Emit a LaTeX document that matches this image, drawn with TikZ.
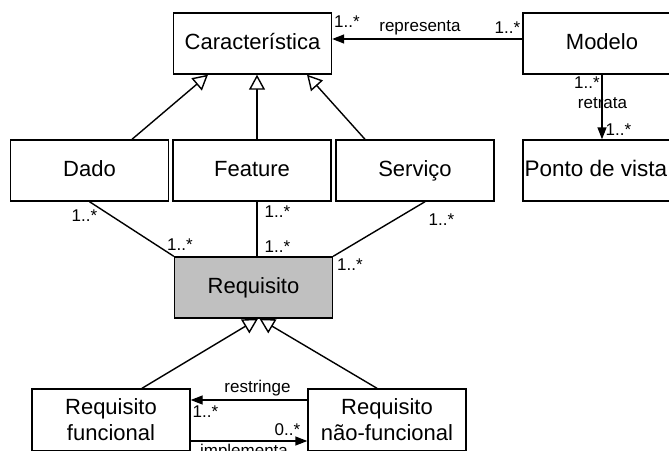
\documentclass[tikz,border=0pt]{standalone}
\usepackage{fontspec}
\setmainfont{Liberation Sans}
\usetikzlibrary{arrows.meta}
\definecolor{reqgray}{RGB}{192,192,192}
\begin{document}
\begin{tikzpicture}[x=1pt,y=-1pt,
  box/.style={draw, line width=1.4pt, minimum width=158pt, minimum height=61pt,
    inner sep=0pt, font=\fontsize{22}{26}\selectfont, align=center},
  one/.style={text height=15.7pt, text depth=3.3pt},
  lbl/.style={inner sep=0pt, font=\fontsize{17}{20}\selectfont},
  conn/.style={line width=1.4pt},
  gen/.style={conn, -{Triangle[open, fill=white, length=15pt, width=16pt]}},
  nav/.style={conn, -{Triangle[length=12pt, width=9pt]}},
]
\useasboundingbox (0,0) rectangle (669,450);
\clip (0,0) rectangle (669,450);

% classes
\node[box, one] (car) at (252.5,43.5) {Característica};
\node[box, one] (modelo) at (602,43.5) {Modelo};
\node[box, one] (dado) at (89.5,170.5) {Dado};
\node[box, one] (feature) at (252,170.5) {Feature};
\node[box, one] (servico) at (415,170.5) {Serviço};
\node[box] (ponto) at (602,170.5) {};
\node[anchor=west, inner sep=0pt, font=\fontsize{22.5}{26}\selectfont, text height=15.7pt, text depth=3.3pt]
  (pontotxt) at ([xshift=2pt]ponto.west) {Ponto de vista};
\node[box, one, fill=reqgray] (req) at (253.5,287.5) {Requisito};
\node[box, minimum height=62pt] (reqf) at (111,420) {Requisito\\funcional};
\node[box, minimum height=62pt] (reqnf) at (387,420) {Requisito\\não-funcional};

% associations between Modelo, Característica and Ponto de vista
\draw[nav] ([yshift=4.5pt]modelo.west) -- ([yshift=4.5pt]car.east);
\node[lbl] (repA) at (347,22) {1..*};
\node[lbl] (repN) at (420,28) {representa};
\node[lbl] (repB) at (507.5,28) {1..*};

\node[lbl] (retA) at (587,83) {1..*};
\node[lbl] (retN) at (602.5,103) {retrata};
\node[lbl] (retB) at (618.5,130) {1..*};
\draw[nav] (modelo.south) -- (ponto.north);

% specialisations of Característica
\draw[gen] ([xshift=42.5pt]dado.north) -- ([xshift=-44.5pt]car.south);
\draw[gen] ([xshift=5pt]feature.north) -- ([xshift=4.5pt]car.south);
\draw[gen] ([xshift=-50pt]servico.north) -- ([xshift=54.5pt]car.south);

% associations with Requisito
\draw[conn] (dado.south) -- (req.north west);
\draw[conn] ([xshift=5pt]feature.south) -- ([xshift=3.5pt]req.north);
\draw[conn] ([xshift=10pt]servico.south) -- (req.north east);
\node[lbl] (dA) at (84.5,216) {1..*};
\node[lbl] (dB) at (180,245) {1..*};
\node[lbl] (fA) at (277.5,212) {1..*};
\node[lbl] (fB) at (277.5,247) {1..*};
\node[lbl] (sA) at (441.5,220) {1..*};
\node[lbl] (sB) at (350,265) {1..*};

% specialisations of Requisito
\draw[gen] ([xshift=31pt]reqf.north) -- ([xshift=4.5pt]req.south);
\draw[gen] ([xshift=-10pt]reqnf.north) -- ([xshift=6pt]req.south);

% restringe / implementa
\draw[nav] ([yshift=20pt]reqnf.west) -- ([yshift=20pt]reqf.east);
\draw[nav] ([yshift=-21pt]reqf.east) -- ([yshift=-21pt]reqnf.west);
\node[lbl] (rsN) at (257.5,388) {restringe};
\node[lbl] (rsA) at (205.5,412) {1..*};
\node[lbl] (imA) at (287.5,430) {0..*};
\node[lbl, anchor=base] (imN) at (244,456) {implementa};
\end{tikzpicture}
\end{document}
